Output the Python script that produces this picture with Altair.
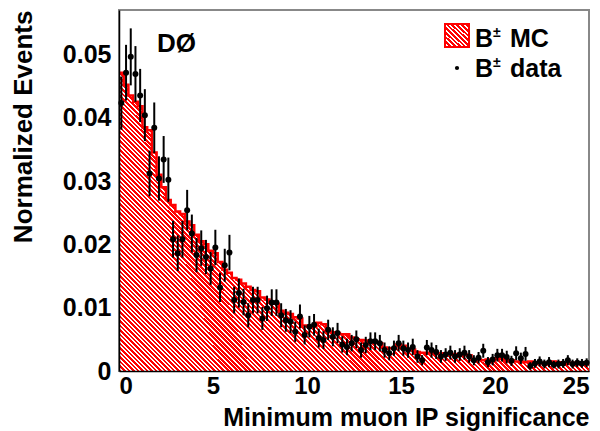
import altair as alt
import pandas as pd

BIN_WIDTH = 0.25

# MC histogram (normalized), 100 bins of width 0.25 from 0 to 25
mc_values = [
    0.0471, 0.0452, 0.0435, 0.0425, 0.0418, 0.0385, 0.0380, 0.0345, 0.0310, 0.0290,
    0.0270, 0.0262, 0.0252, 0.0248, 0.0236, 0.0230, 0.0215, 0.0205, 0.0200, 0.0190,
    0.0186, 0.0172, 0.0160, 0.0155, 0.0147, 0.0144, 0.0138, 0.0133, 0.0128, 0.0126,
    0.0116, 0.0113, 0.0108, 0.0106, 0.0095, 0.0092, 0.0090, 0.0085, 0.0083, 0.0072,
    0.0070, 0.0070, 0.0076, 0.0074, 0.0063, 0.0061, 0.0060, 0.0058, 0.0058, 0.0053,
    0.0050, 0.0049, 0.0048, 0.0047, 0.0046, 0.0044, 0.0037, 0.0036, 0.0036, 0.0042,
    0.0040, 0.0035, 0.0034, 0.0030, 0.0029, 0.0029, 0.0028, 0.0028, 0.0027, 0.0028,
    0.0027, 0.0026, 0.0027, 0.0026, 0.0025, 0.0018, 0.0018, 0.0017, 0.0018, 0.0017,
    0.0020, 0.0019, 0.0016, 0.0017, 0.0015, 0.0015, 0.0014, 0.0015, 0.0012, 0.0012,
    0.0013, 0.0012, 0.0015, 0.0014, 0.0012, 0.0012, 0.0013, 0.0012, 0.0012, 0.0012,
]

# Data points (normalized) at bin centres
data_values = [
    0.0423, 0.0471, 0.0496, 0.0469, 0.0435, 0.0404, 0.0312, 0.0384, 0.0304, 0.0334,
    0.0302, 0.0208, 0.0186, 0.0208, 0.0254, 0.0217, 0.0183, 0.0194, 0.0180, 0.0162,
    0.0195, 0.0132, 0.0167, 0.0187, 0.0112, 0.0123, 0.0109, 0.0088, 0.0112, 0.0112,
    0.0083, 0.0099, 0.0108, 0.0108, 0.0088, 0.0080, 0.0078, 0.0062, 0.0086, 0.0057,
    0.0070, 0.0073, 0.0052, 0.0049, 0.0065, 0.0054, 0.0060, 0.0042, 0.0038, 0.0044,
    0.0050, 0.0033, 0.0041, 0.0047, 0.0047, 0.0044, 0.0033, 0.0028, 0.0036, 0.0044,
    0.0036, 0.0033, 0.0038, 0.0023, 0.0017, 0.0037, 0.0033, 0.0030, 0.0023, 0.0026,
    0.0029, 0.0023, 0.0026, 0.0029, 0.0023, 0.0017, 0.0021, 0.0032, 0.0014, 0.0018,
    0.0025, 0.0025, 0.0022, 0.0016, 0.0028, 0.0020, 0.0027, 0.0008, 0.0012, 0.0015,
    0.0011, 0.0014, 0.0010, 0.0011, 0.0012, 0.0017, 0.0011, 0.0013, 0.0012, 0.0013,
]

data_errors = [
    0.0042, 0.0044, 0.0045, 0.0044, 0.0042, 0.0041, 0.0036, 0.0040, 0.0035, 0.0037,
    0.0035, 0.0029, 0.0028, 0.0029, 0.0032, 0.0030, 0.0027, 0.0028, 0.0027, 0.0026,
    0.0028, 0.0023, 0.0026, 0.0028, 0.0021, 0.0023, 0.0021, 0.0019, 0.0021, 0.0021,
    0.0018, 0.0020, 0.0021, 0.0021, 0.0019, 0.0018, 0.0018, 0.0016, 0.0019, 0.0015,
    0.0017, 0.0017, 0.0015, 0.0014, 0.0016, 0.0015, 0.0016, 0.0013, 0.0013, 0.0013,
    0.0014, 0.0012, 0.0013, 0.0014, 0.0014, 0.0013, 0.0012, 0.0011, 0.0012, 0.0013,
    0.0012, 0.0012, 0.0013, 0.0010, 0.0008, 0.0012, 0.0012, 0.0011, 0.0010, 0.0010,
    0.0011, 0.0010, 0.0010, 0.0011, 0.0010, 0.0008, 0.0009, 0.0011, 0.0008, 0.0009,
    0.0010, 0.0010, 0.0010, 0.0008, 0.0011, 0.0009, 0.0011, 0.0006, 0.0007, 0.0008,
    0.0007, 0.0008, 0.0006, 0.0007, 0.0007, 0.0008, 0.0007, 0.0007, 0.0007, 0.0007,
]

x_ticks = [0, 5, 10, 15, 20, 25]
y_ticks = [0, 0.01, 0.02, 0.03, 0.04, 0.05]

FONT = "Liberation Sans"
RED = "#ff0000"

edges = [i * BIN_WIDTH for i in range(len(mc_values) + 1)]
mc_df = pd.DataFrame({"x": edges, "y": mc_values + [mc_values[-1]]})
centers = [(i + 0.5) * BIN_WIDTH for i in range(len(data_values))]
data_df = pd.DataFrame({
    "x": centers,
    "y": data_values,
    "lo": [v - e for v, e in zip(data_values, data_errors)],
    "hi": [v + e for v, e in zip(data_values, data_errors)],
})


def stripes(n, frac, c1=RED, c2="#ffffff"):
    stops = []
    for i in range(n):
        a = i / n
        b = (i + frac) / n
        c = (i + 1) / n
        stops += [
            {"offset": a, "color": c1},
            {"offset": b, "color": c1},
            {"offset": b, "color": c2},
            {"offset": c, "color": c2},
        ]
    return stops


hatch_main = {"gradient": "linear", "x1": 0, "y1": 1, "x2": 1.163, "y2": 0.26,
              "stops": stripes(170, 0.58)}
hatch_leg = {"gradient": "linear", "x1": 0, "y1": 1, "x2": 1, "y2": 0,
             "stops": stripes(10, 0.58)}

xs = alt.Scale(domain=[0, 25], nice=False, zero=False)
ys = alt.Scale(domain=[0, 0.057], nice=False, zero=False)

x_axis = alt.Axis(
    values=x_ticks, ticks=False, grid=False, labelFont=FONT, labelFontSize=24,
    labelFontWeight="bold", labelColor="black", labelPadding=3, labelOverlap=False,
    domainColor="black", domainWidth=1.5, title="Minimum muon IP significance",
    titleFont=FONT, titleFontSize=25, titleFontWeight="bold", titleColor="black",
    titleX=470, titleY=54, titleAlign="right", titleBaseline="alphabetic", zindex=1,
)
y_axis = alt.Axis(
    values=y_ticks, ticks=False, grid=False, labelFont=FONT, labelFontSize=25,
    labelFontWeight="bold", labelColor="black", labelPadding=8, labelOverlap=False,
    labelExpr="datum.value == 0 ? '0' : format(datum.value, '.2f')",
    domainColor="black", domainWidth=1.5, title="Normalized Events",
    titleFont=FONT, titleFontSize=26, titleFontWeight="bold", titleColor="black",
    titleAngle=270, titleX=-96, titleY=0, titleAlign="right", titleBaseline="middle",
    zindex=1,
)

base_mc = alt.Chart(mc_df)
area = base_mc.mark_area(interpolate="step-after", fill=hatch_main).encode(
    x=alt.X("x:Q", scale=xs, axis=x_axis),
    y=alt.Y("y:Q", scale=ys, axis=y_axis),
)
outline = base_mc.mark_line(interpolate="step-after", color=RED, strokeWidth=2.5).encode(
    x=alt.X("x:Q", scale=xs), y=alt.Y("y:Q", scale=ys)
)

base_data = alt.Chart(data_df)
errbars = base_data.mark_rule(color="black", strokeWidth=2).encode(
    x=alt.X("x:Q", scale=xs), y=alt.Y("lo:Q", scale=ys), y2="hi:Q"
)
points = base_data.mark_circle(color="black", opacity=1, size=36).encode(
    x=alt.X("x:Q", scale=xs), y=alt.Y("y:Q", scale=ys)
)

one = alt.Data(values=[{"a": 1}])


def txt(s, x, y, size, baseline="alphabetic"):
    return alt.Chart(one).mark_text(
        text=s, font=FONT, fontSize=size, fontWeight="bold", color="black",
        align="left", baseline=baseline,
    ).encode(x=alt.value(x), y=alt.value(y))


leg_box = alt.Chart(one).mark_rect(fill=hatch_leg, stroke=RED, strokeWidth=2).encode(
    x=alt.value(326), x2=alt.value(350), y=alt.value(14), y2=alt.value(37)
)
leg_dot = alt.Chart(one).mark_circle(color="black", opacity=1, size=18).encode(
    x=alt.value(338), y=alt.value(58)
)

texts = [
    txt("DØ", 38, 42, 26),
    txt("B", 356, 37, 25),
    txt("±", 374, 27, 14),
    txt("MC", 391, 37, 25),
    txt("B", 356, 67, 25),
    txt("±", 374, 57, 14),
    txt("data", 391, 67, 25),
]

chart = alt.layer(area, outline, errbars, points, leg_box, leg_dot, *texts).properties(
    width=470, height=361,
    padding={"left": 119, "top": 10, "right": 11, "bottom": 60},
    autosize=alt.AutoSizeParams(type="none"),
    background="white",
).configure_view(stroke="#888888", strokeWidth=2)

chart.save("out.html", embed_options={"renderer": "svg", "actions": False})
